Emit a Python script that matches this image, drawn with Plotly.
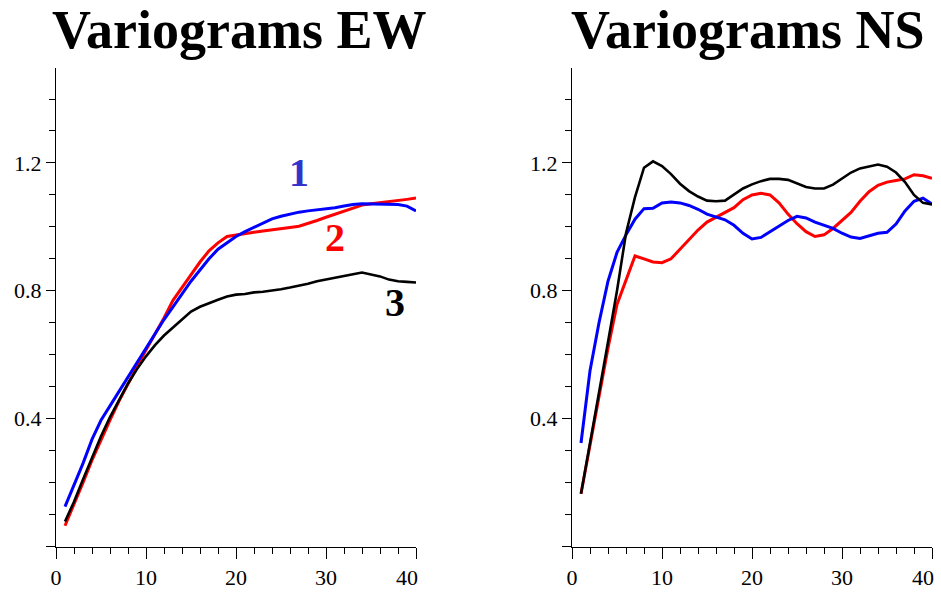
import plotly.graph_objects as go

lags = list(range(1, 41))

ew_blue = [0.125, 0.19, 0.26, 0.335, 0.395, 0.44, 0.485, 0.53, 0.575, 0.62,
           0.665, 0.71, 0.75, 0.79, 0.83, 0.865, 0.90, 0.93, 0.95, 0.97,
           0.985, 0.998, 1.012, 1.025, 1.033, 1.04, 1.046, 1.05, 1.053, 1.058,
           1.06, 1.065, 1.07, 1.072, 1.072, 1.072, 1.07, 1.07, 1.065, 1.05]
ew_red = [0.065, 0.13, 0.2, 0.27, 0.335, 0.395, 0.455, 0.51, 0.565, 0.615,
          0.665, 0.715, 0.77, 0.81, 0.85, 0.89, 0.925, 0.95, 0.97, 0.975,
          0.98, 0.983, 0.987, 0.99, 0.995, 0.998, 1.002, 1.01, 1.02, 1.03,
          1.04, 1.05, 1.06, 1.068, 1.072, 1.075, 1.078, 1.082, 1.086, 1.09]
ew_black = [0.078, 0.14, 0.21, 0.28, 0.345, 0.405, 0.46, 0.51, 0.555, 0.595,
            0.63, 0.66, 0.685, 0.71, 0.735, 0.75, 0.762, 0.772, 0.782, 0.788,
            0.79, 0.795, 0.797, 0.80, 0.805, 0.81, 0.815, 0.822, 0.83, 0.836,
            0.842, 0.848, 0.852, 0.857, 0.852, 0.845, 0.835, 0.83, 0.828, 0.826]

ns_black = [0.165, 0.32, 0.48, 0.64, 0.80, 0.98, 1.093, 1.185, 1.205, 1.19,
            1.165, 1.135, 1.112, 1.095, 1.082, 1.08, 1.082, 1.10, 1.12, 1.133,
            1.143, 1.15, 1.15, 1.147, 1.137, 1.125, 1.12, 1.12, 1.132, 1.15,
            1.17, 1.183, 1.19, 1.195, 1.188, 1.17, 1.14, 1.10, 1.075, 1.07]
ns_red = [0.165, 0.32, 0.47, 0.62, 0.757, 0.83, 0.909, 0.90, 0.89, 0.888,
          0.90, 0.93, 0.96, 0.99, 1.015, 1.03, 1.045, 1.06, 1.085, 1.10,
          1.105, 1.10, 1.075, 1.04, 1.01, 0.985, 0.97, 0.975, 0.995, 1.02,
          1.045, 1.08, 1.11, 1.13, 1.14, 1.145, 1.15, 1.163, 1.16, 1.152]
ns_blue = [0.324, 0.55, 0.70, 0.83, 0.92, 0.975, 1.024, 1.057, 1.058, 1.075,
           1.078, 1.075, 1.067, 1.055, 1.04, 1.032, 1.022, 1.005, 0.98, 0.962,
           0.967, 0.985, 1.003, 1.02, 1.033, 1.028, 1.015, 1.005, 0.995, 0.98,
           0.968, 0.964, 0.972, 0.98, 0.983, 1.009, 1.05, 1.08, 1.09, 1.071]

x_ticks = [0, 10, 20, 30, 40]
x_labels = ["0", "10", "20", "30", ""]
x_end_label = "40"
x_end_value = 40
y_ticks = [0, 0.4, 0.8, 1.2]
y_labels = ["", "0.4", "0.8", "1.2"]

curve_labels = ["1", "2", "3"]
label_x = [27.0, 31.05, 37.67]
label_y = [1.169, 0.966, 0.764]
label_colors = ["#3333cc", "#ff0000", "#000000"]

titles = ["Variograms EW", "Variograms NS"]

FONT = "Liberation Serif, Times New Roman, serif"

fig = go.Figure()
for y, c, w in [(ew_red, "#ff0000", 3), (ew_blue, "#0000ff", 3), (ew_black, "#000000", 2.6)]:
    fig.add_trace(go.Scatter(x=lags, y=y, mode="lines", line=dict(color=c, width=w),
                             xaxis="x", yaxis="y", showlegend=False))
for y, c, w in [(ns_red, "#ff0000", 3), (ns_blue, "#0000ff", 3), (ns_black, "#000000", 2.6)]:
    fig.add_trace(go.Scatter(x=lags, y=y, mode="lines", line=dict(color=c, width=w),
                             xaxis="x2", yaxis="y2", showlegend=False))

xdom1 = [56 / 941, 416 / 941]
xdom2 = [572 / 941, 932 / 941]
ydom = [45.5 / 592, 524 / 592]

def xax(dom, anchor):
    return dict(domain=dom, anchor=anchor, range=[0, 40], showline=True, linecolor="black",
                linewidth=1.2, showgrid=False, zeroline=False, ticks="outside", ticklen=11,
                tickwidth=1.2, tickcolor="black", tickvals=x_ticks, ticktext=x_labels,
                automargin=False,
                tickfont=dict(family=FONT, size=22, color="black"),
                minor=dict(dtick=2, ticks="outside", ticklen=6, tickwidth=1, tickcolor="black"))

def yax(anchor):
    return dict(domain=ydom, anchor=anchor, range=[0, 1.497], showline=True, linecolor="black",
                linewidth=1.2, showgrid=False, zeroline=False, ticks="outside", ticklen=9,
                tickwidth=1.2, tickcolor="black", tickvals=y_ticks, ticktext=y_labels,
                automargin=False,
                tickfont=dict(family=FONT, size=22, color="black"),
                minor=dict(dtick=0.1, ticks="outside", ticklen=6, tickwidth=1, tickcolor="black"))

annotations = []
for t, dom, sh in zip(titles, [xdom1, xdom2], [3, -4]):
    annotations.append(dict(text="<b>" + t + "</b>", x=(dom[0] + dom[1]) / 2, y=1 - 30 / 592,
                            xref="paper", yref="paper", xanchor="center", yanchor="middle",
                            xshift=sh, showarrow=False,
                            font=dict(family=FONT, size=54, color="black")))
for t, lx, ly, lc in zip(curve_labels, label_x, label_y, label_colors):
    annotations.append(dict(text="<b>" + t + "</b>", x=lx, y=ly, xref="x", yref="y",
                            xanchor="center", yanchor="middle", showarrow=False,
                            font=dict(family=FONT, size=40, color=lc)))
for xr in ["x", "x2"]:
    annotations.append(dict(text=x_end_label, x=x_end_value, y=(592 - 577) / 592, xref=xr,
                            yref="paper", xanchor="center", yanchor="middle", xshift=-9,
                            showarrow=False, font=dict(family=FONT, size=22, color="black")))

fig.update_layout(
    width=941, height=592, margin=dict(l=0, r=0, t=0, b=0, autoexpand=False),
    paper_bgcolor="white", plot_bgcolor="white",
    xaxis=xax(xdom1, "y"), yaxis=yax("x"),
    xaxis2=xax(xdom2, "y2"), yaxis2=yax("x2"),
    annotations=annotations,
)

fig.write_html("out.html")
